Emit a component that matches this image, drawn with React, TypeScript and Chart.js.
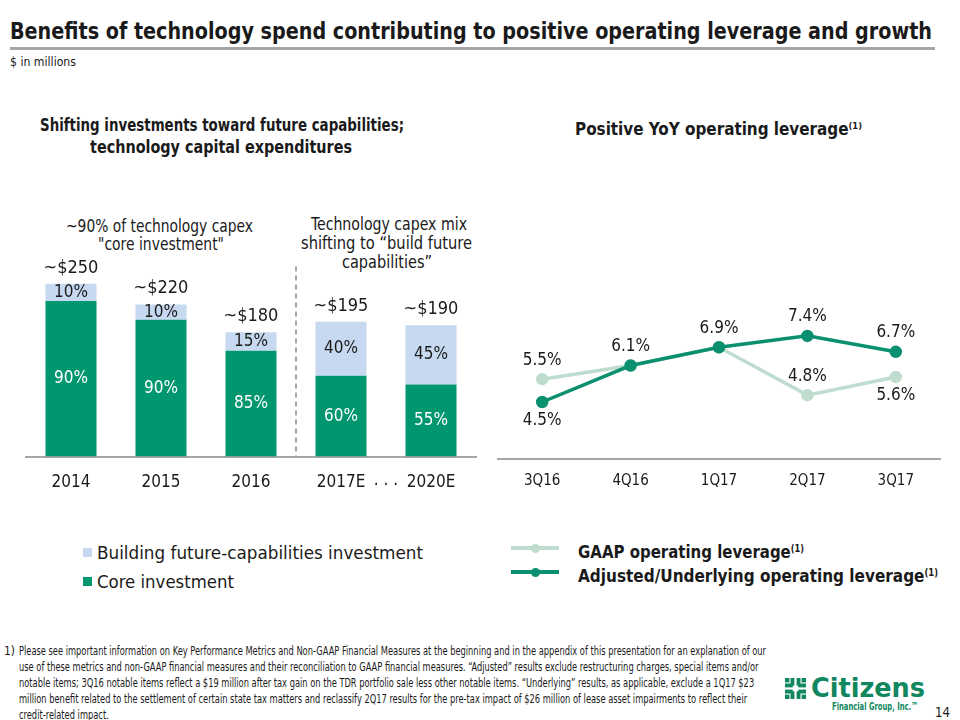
import React, { useEffect, useLayoutEffect, useRef } from "react";
import { Chart, registerables } from "chart.js";

Chart.register(...registerables);

// ---------------- DATA ----------------
const years = ["2014", "2015", "2016", "2017E", "2020E"];
const totalLabels = ["~$250", "~$220", "~$180", "~$195", "~$190"];
const coreValues = [225, 198, 153, 117, 104.5];
const futureValues = [25, 22, 27, 78, 85.5];
const corePct = [90, 90, 85, 60, 55];
const futurePct = [10, 10, 15, 40, 45];

const quarters = ["3Q16", "4Q16", "1Q17", "2Q17", "3Q17"];
const adjustedLeverage = [4.5, 6.1, 6.9, 7.4, 6.7];
const gaapLeverage = [5.5, 6.1, 6.9, 4.8, 5.6];

const footnoteLines = [
  "Please see important information on Key Performance Metrics and Non-GAAP Financial Measures at the beginning and in the appendix of this presentation for an explanation of our",
  "use of these metrics and non-GAAP financial measures and their reconciliation to GAAP financial measures. \u201CAdjusted\u201D results exclude restructuring charges, special items and/or",
  "notable items; 3Q16 notable items reflect a $19 million after tax gain on the TDR portfolio sale less other notable items. \u201CUnderlying\u201D results, as applicable, exclude a 1Q17 $23",
  "million benefit related to the settlement of certain state tax matters and reclassify 2Q17 results for the pre-tax impact of $26 million of lease asset impairments to reflect their",
  "credit-related impact.",
];

// ---------------- STYLE ----------------
const FONT = '"DejaVu Sans Condensed", "DejaVu Sans", sans-serif';
const GREEN_BAR = "#00966F";
const LIGHT_BAR = "#C6D9F0";
const LINE_DARK = "#0A9070";
const LINE_LIGHT = "#BFDDCE";
const AXIS = "#A6A6A6";
const TEXT = "#1A1A1A";
const LOGO_GREEN = "#10875F";

Chart.defaults.font.family = FONT;
Chart.defaults.color = TEXT;

type FitProps = {
  x: number;
  y: number;
  w: number;
  size: number;
  bold?: boolean;
  color?: string;
  align?: "left" | "center";
  lh?: number;
  children: React.ReactNode;
};

// Text box whose width is fitted to the reference by a horizontal scale.
function Fit({ x, y, w, size, bold, color = TEXT, align = "left", lh, children }: FitProps) {
  const ref = useRef<HTMLSpanElement>(null);
  const lineH = lh ?? Math.round(size * 1.25);
  useLayoutEffect(() => {
    const el = ref.current;
    if (!el) return;
    el.style.transform = "none";
    const nat = el.getBoundingClientRect().width;
    if (nat > 0) el.style.transform = `scaleX(${w / nat})`;
  }, [w]);
  const left = align === "center" ? x - w / 2 : x;
  return (
    <div
      style={{
        position: "absolute",
        left,
        top: y - lineH / 2,
        whiteSpace: "nowrap",
        lineHeight: lineH + "px",
        fontSize: size,
        fontWeight: bold ? 700 : 400,
        fontFamily: FONT,
        color,
      }}
    >
      <span ref={ref} style={{ display: "inline-block", transformOrigin: "left top" }}>
        {children}
      </span>
    </div>
  );
}

// Multi-line block; the widest line is fitted to w, all lines share the scale.
function FitBlock({ x, y, w, size, lh, lines }: { x: number; y: number; w: number; size: number; lh: number; lines: string[] }) {
  const ref = useRef<HTMLSpanElement>(null);
  useLayoutEffect(() => {
    const el = ref.current;
    if (!el) return;
    el.style.transform = "none";
    const nat = el.getBoundingClientRect().width;
    if (nat > 0) el.style.transform = `scaleX(${w / nat})`;
  }, [w]);
  return (
    <div
      style={{
        position: "absolute",
        left: x,
        top: y - lh / 2,
        whiteSpace: "nowrap",
        lineHeight: lh + "px",
        fontSize: size,
        fontFamily: FONT,
        color: TEXT,
      }}
    >
      <span ref={ref} style={{ display: "inline-block", transformOrigin: "left top" }}>
        {lines.map((l, i) => (
          <div key={i}>{l}</div>
        ))}
      </span>
    </div>
  );
}

const Sup = ({ children }: { children: React.ReactNode }) => (
  <span style={{ fontSize: "0.55em", verticalAlign: "0.6em" }}>{children}</span>
);

// ---------------- LEFT CHART ----------------
const barLabelPlugin = {
  id: "barLabels",
  afterDatasetsDraw(chart: any) {
    const ctx = chart.ctx;
    const core = chart.getDatasetMeta(0).data;
    const fut = chart.getDatasetMeta(1).data;
    const xs = chart.scales.x;
    const ys = chart.scales.y;
    ctx.save();
    ctx.textAlign = "center";
    ctx.textBaseline = "middle";
    core.forEach((el: any, i: number) => {
      const c = el.getProps(["x", "y", "base"], true);
      const f = fut[i].getProps(["x", "y", "base"], true);
      ctx.font = `17px ${FONT}`;
      ctx.fillStyle = "#FFFFFF";
      ctx.fillText(`${corePct[i]}%`, c.x, (c.y + c.base) / 2);
      ctx.fillStyle = TEXT;
      ctx.fillText(`${futurePct[i]}%`, f.x, (f.y + f.base) / 2);
      ctx.font = `18px ${FONT}`;
      ctx.fillText(totalLabels[i], f.x, f.y - 16);
    });
    // dashed divider between actuals and estimates
    const dx = (xs.getPixelForValue(2) + xs.getPixelForValue(3)) / 2;
    ctx.strokeStyle = AXIS;
    ctx.lineWidth = 2;
    ctx.setLineDash([5, 4]);
    ctx.beginPath();
    ctx.moveTo(dx, ys.getPixelForValue(275));
    ctx.lineTo(dx, chart.chartArea.bottom);
    ctx.stroke();
    ctx.setLineDash([]);
    // ". . ." between the two estimate years
    const ex = (xs.getPixelForValue(3) + xs.getPixelForValue(4)) / 2;
    ctx.font = `17px ${FONT}`;
    ctx.fillText(". . .", ex, chart.chartArea.bottom + 24);
    ctx.restore();
  },
};

function BarChart() {
  const ref = useRef<HTMLCanvasElement>(null);
  useEffect(() => {
    if (!ref.current) return;
    const chart = new Chart(ref.current, {
      type: "bar",
      data: {
        labels: years,
        datasets: [
          {
            label: "Core investment",
            data: coreValues,
            backgroundColor: GREEN_BAR,
            stack: "s",
            barPercentage: 0.567,
            categoryPercentage: 1,
          },
          {
            label: "Building future-capabilities investment",
            data: futureValues,
            backgroundColor: LIGHT_BAR,
            stack: "s",
            barPercentage: 0.567,
            categoryPercentage: 1,
          },
        ],
      },
      options: {
        animation: false,
        responsive: false,
        maintainAspectRatio: false,
        layout: { padding: { left: 26, right: 14, top: 4, bottom: 0 } },
        plugins: { legend: { display: false }, tooltip: { enabled: false } },
        scales: {
          x: {
            stacked: true,
            grid: { display: false, drawTicks: false },
            border: { display: true, color: AXIS, width: 2 },
            ticks: { font: { size: 17 }, color: TEXT, padding: 16 },
          },
          y: { stacked: true, display: false, min: 0, max: 380 },
        },
      },
      plugins: [barLabelPlugin],
    });
    return () => chart.destroy();
  }, []);
  return (
    <canvas
      ref={ref}
      width={490}
      height={319}
      style={{ position: "absolute", left: 0, top: 190, width: 490, height: 319 }}
    />
  );
}

// ---------------- RIGHT CHART ----------------
const lineLabelPlugin = {
  id: "lineLabels",
  afterDatasetsDraw(chart: any) {
    const ctx = chart.ctx;
    const adj = chart.getDatasetMeta(0).data;
    const gaap = chart.getDatasetMeta(1).data;
    ctx.save();
    ctx.textAlign = "center";
    ctx.textBaseline = "middle";
    ctx.font = `17px ${FONT}`;
    ctx.fillStyle = TEXT;
    adj.forEach((el: any, i: number) => {
      const a = adjustedLeverage[i];
      const g = gaapLeverage[i];
      // adjusted: below only when GAAP sits just above it
      const adjBelow = g > a && g - a < 1.5;
      ctx.fillText(`${a.toFixed(1)}%`, el.x, el.y + (adjBelow ? 19 : -19));
      if (g !== a) {
        const gaapBelow = a > g && a - g < 1.5;
        const gp = gaap[i];
        ctx.fillText(`${g.toFixed(1)}%`, gp.x, gp.y + (gaapBelow ? 19 : -19));
      }
    });
    ctx.restore();
  },
};

function LineChart() {
  const ref = useRef<HTMLCanvasElement>(null);
  useEffect(() => {
    if (!ref.current) return;
    const chart = new Chart(ref.current, {
      type: "line",
      data: {
        labels: quarters,
        datasets: [
          {
            label: "Adjusted/Underlying operating leverage",
            data: adjustedLeverage,
            borderColor: LINE_DARK,
            backgroundColor: LINE_DARK,
            pointBackgroundColor: LINE_DARK,
            pointBorderColor: LINE_DARK,
            borderWidth: 3.5,
            pointRadius: 4.5,
            tension: 0,
          },
          {
            label: "GAAP operating leverage",
            data: gaapLeverage,
            borderColor: LINE_LIGHT,
            backgroundColor: LINE_LIGHT,
            pointBackgroundColor: LINE_LIGHT,
            pointBorderColor: LINE_LIGHT,
            borderWidth: 3.5,
            pointRadius: 4.5,
            tension: 0,
          },
        ],
      },
      options: {
        animation: false,
        responsive: false,
        maintainAspectRatio: false,
        layout: { padding: { left: 8, right: 20, top: 0, bottom: 0 } },
        plugins: { legend: { display: false }, tooltip: { enabled: false } },
        scales: {
          x: {
            offset: true,
            grid: { display: false, drawTicks: false },
            border: { display: true, color: AXIS, width: 2 },
            ticks: { font: { size: 15 }, color: TEXT, padding: 13 },
          },
          y: { display: false, min: 2, max: 9.5 },
        },
      },
      plugins: [lineLabelPlugin],
    });
    return () => chart.destroy();
  }, []);
  return (
    <canvas
      ref={ref}
      width={470}
      height={223}
      style={{ position: "absolute", left: 490, top: 280, width: 470, height: 223 }}
    />
  );
}

// ---------------- LEGEND ITEMS ----------------
function LineKey({ y, color }: { y: number; color: string }) {
  return (
    <>
      <div style={{ position: "absolute", left: 511, top: y - 1.75, width: 48, height: 3.5, background: color }} />
      <div
        style={{
          position: "absolute",
          left: 535 - 4.5,
          top: y - 4.5,
          width: 9,
          height: 9,
          borderRadius: "50%",
          background: color,
        }}
      />
    </>
  );
}

function Logo() {
  return (
    <svg style={{ position: "absolute", left: 785, top: 678 }} width={21} height={21} viewBox="0 0 19 19">
      <g fill={LOGO_GREEN}>
        <rect x="0" y="0" width="4" height="4" />
        <rect x="5" y="0" width="3.5" height="7" />
        <rect x="0" y="5" width="7" height="3.5" />
        <rect x="15" y="0" width="4" height="4" />
        <rect x="10.5" y="0" width="3.5" height="7" />
        <rect x="12" y="5" width="7" height="3.5" />
        <rect x="0" y="15" width="4" height="4" />
        <rect x="5" y="12" width="3.5" height="7" />
        <rect x="0" y="10.5" width="7" height="3.5" />
        <rect x="15" y="15" width="4" height="4" />
        <rect x="10.5" y="12" width="3.5" height="7" />
        <rect x="12" y="10.5" width="7" height="3.5" />
      </g>
    </svg>
  );
}

export default function App() {
  return (
    <div
      style={{
        position: "absolute",
        left: 0,
        top: 0,
        width: 960,
        height: 720,
        background: "#FFFFFF",
        overflow: "hidden",
        fontFamily: FONT,
      }}
    >
      <Fit x={10} y={31} w={922} size={23} bold>
        Benefits of technology spend contributing to positive operating leverage and growth
      </Fit>
      <div style={{ position: "absolute", left: 10, top: 47, width: 925, height: 2.5, background: AXIS }} />
      <Fit x={10} y={62} w={66} size={12}>
        $ in millions
      </Fit>

      <Fit x={222} y={125} w={364} size={17} bold align="center">
        Shifting investments toward future capabilities;
      </Fit>
      <Fit x={221} y={147} w={262} size={17} bold align="center">
        technology capital expenditures
      </Fit>
      <Fit x={718} y={125} w={287} size={17} bold align="center">
        Positive YoY operating leverage<Sup>(1)</Sup>
      </Fit>

      <Fit x={159} y={226} w={187} size={17} align="center">
        ~90% of technology capex
      </Fit>
      <Fit x={161} y={244} w={126} size={17} align="center">
        "core investment"
      </Fit>
      <Fit x={389} y={224} w={156} size={17} align="center">
        Technology capex mix
      </Fit>
      <Fit x={386} y={243} w={171} size={17} align="center">
        shifting to {"\u201C"}build future
      </Fit>
      <Fit x={387} y={262} w={90} size={17} align="center">
        capabilities{"\u201D"}
      </Fit>

      <BarChart />
      <LineChart />

      {/* left legend */}
      <div style={{ position: "absolute", left: 83, top: 548, width: 9, height: 9, background: LIGHT_BAR }} />
      <Fit x={97} y={552} w={326} size={18}>
        Building future-capabilities investment
      </Fit>
      <div style={{ position: "absolute", left: 83, top: 577, width: 9, height: 9, background: GREEN_BAR }} />
      <Fit x={97} y={581} w={137} size={18}>
        Core investment
      </Fit>

      {/* right legend */}
      <LineKey y={548} color={LINE_LIGHT} />
      <LineKey y={572} color={LINE_DARK} />
      <Fit x={578} y={548} w={226} size={18} bold>
        GAAP operating leverage<Sup>(1)</Sup>
      </Fit>
      <Fit x={578} y={572} w={360} size={18} bold>
        Adjusted/Underlying operating leverage<Sup>(1)</Sup>
      </Fit>

      {/* footnote */}
      <Fit x={4} y={651} w={11} size={12} lh={14}>
        1)
      </Fit>
      <FitBlock x={19} y={651} w={747} size={12} lh={16} lines={footnoteLines} />

      {/* logo */}
      <Logo />
      <Fit x={811} y={688} w={114} size={27} bold color={LOGO_GREEN}>
        Citizens
      </Fit>
      <Fit x={832} y={707} w={86} size={11} bold color={LOGO_GREEN}>
        Financial Group, Inc.{"\u2122"}
      </Fit>
      <Fit x={935} y={712} w={15} size={14}>
        14
      </Fit>
    </div>
  );
}
